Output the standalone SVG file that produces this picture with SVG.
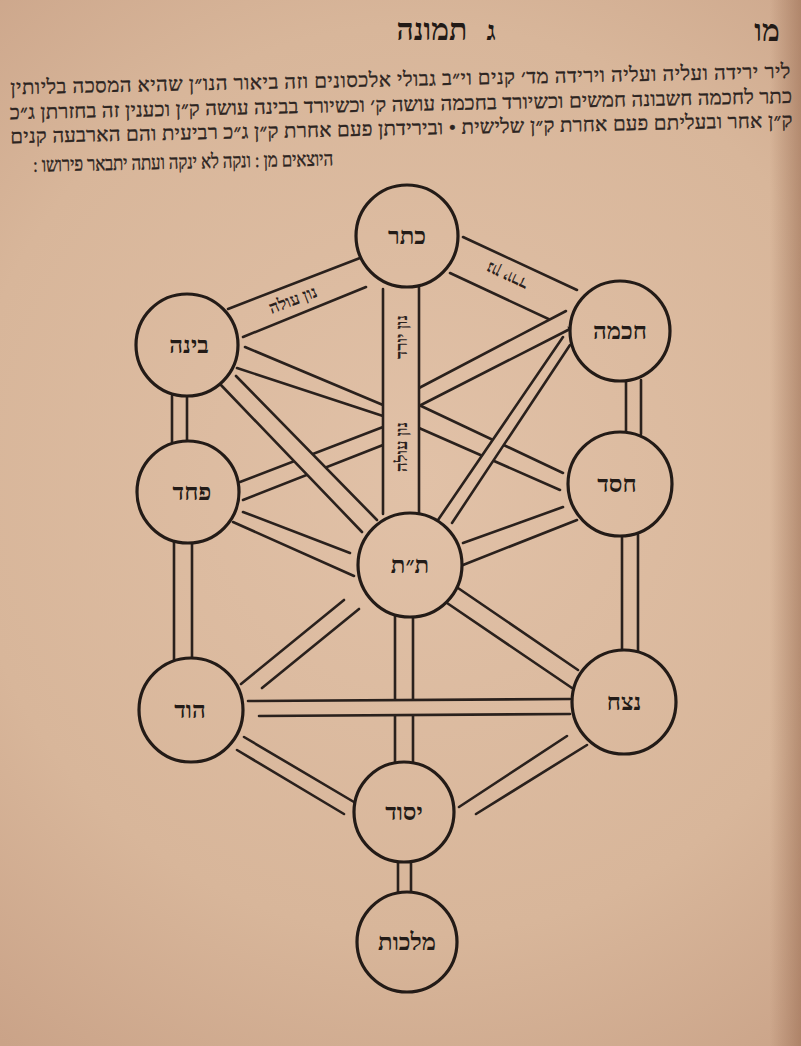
<svg xmlns="http://www.w3.org/2000/svg" width="801" height="1046" viewBox="0 0 801 1046">
<defs>
<radialGradient id="bg" gradientUnits="userSpaceOnUse" cx="420" cy="480" r="700">
<stop offset="0" stop-color="#e1c1a7"/>
<stop offset="0.65" stop-color="#d8b69a"/>
<stop offset="1" stop-color="#caa388"/>
</radialGradient>
<linearGradient id="edge" x1="0" y1="0" x2="1" y2="0">
<stop offset="0" stop-color="#8a5a40" stop-opacity="0"/>
<stop offset="1" stop-color="#8a5a40" stop-opacity="0.45"/>
</linearGradient>
</defs>
<style>
.ch{fill:url(#bg);stroke:none}
.ln{fill:none;stroke:#2a211d;stroke-width:2.6;stroke-linecap:round}
.node circle{fill:url(#bg);stroke:#231b17;stroke-width:3.2}
.node text{font-family:"Liberation Serif","DejaVu Sans",serif;font-weight:bold;font-size:24px;fill:#231b17;text-anchor:middle}
.lbl{font-family:"Liberation Serif","DejaVu Sans",serif;font-weight:bold;font-size:17px;fill:#2a211d;text-anchor:middle;dominant-baseline:central}
.body{font-family:"Liberation Serif","DejaVu Sans",serif;font-size:20px;fill:#2b2320;stroke:#2b2320;stroke-width:0.4;text-anchor:middle}
.head{font-family:"Liberation Serif","DejaVu Sans",serif;font-weight:bold;fill:#221a16;text-anchor:middle}
</style>
<rect x="0" y="0" width="801" height="1046" fill="url(#bg)"/>
<rect x="770" y="0" width="31" height="1046" fill="url(#edge)"/>

<g id="header">
<text class="head" x="432" y="40" font-size="30">תמונה</text>
<text class="head" x="491" y="40" font-size="28">ג</text>
<text class="head" x="767" y="41" font-size="30">מו</text>
</g>

<g id="paragraph" transform="rotate(-1.2 400 110)">
<text class="body" direction="rtl" x="401" y="86" textLength="780" lengthAdjust="spacing">ליר ירידה ועליה ועליה וירידה מד׳ קנים וי״ב גבולי אלכסונים וזה ביאור הנו״ן שהיא המסכה בליותין</text>
<text class="body" direction="rtl" x="401" y="111" textLength="782" lengthAdjust="spacing">כתר לחכמה חשבונה חמשים וכשיורד בחכמה עושה ק׳ וכשיורד בבינה עושה ק״ן וכענין זה בחזרתן ג״כ</text>
<text class="body" direction="rtl" x="401" y="135" textLength="782" lengthAdjust="spacing">ק״ן אחר ובעליתם פעם אחרת ק״ן שלישית • ובירידתן פעם אחרת ק״ן ג״כ רביעית והם הארבעה קנים</text>
<text class="body" direction="rtl" x="182" y="164" textLength="300" lengthAdjust="spacingAndGlyphs">היוצאים מן :    ונקה לא ינקה ועתה יתבאר פירושו :</text>
</g>

<g id="connectors">
<!-- Keter - Binah -->
<path class="ch" d="M228,309 L360,258 L366,287 L243,337 Z"/>
<path class="ln" d="M228,309 L360,258 M243,337 L366,287"/>
<text class="lbl" transform="translate(293,300) rotate(-21)">נון עולה</text>
<!-- Keter - Chochmah -->
<path class="ch" d="M463,237 L577,290 L570,329 L450,273 Z"/>
<path class="ln" d="M463,237 L577,290 M450,273 L570,329"/>
<text class="lbl" transform="translate(507,276) rotate(205)">נון יורד</text>
<!-- Binah - Chesed -->
<path class="ch" d="M245,347 L383,405 L383,416 L237,368 Z"/>
<path class="ln" d="M245,347 L383,405 M237,368 L383,416"/>
<path class="ch" d="M419,405 L563,473 L560,490 L419,428 Z"/>
<path class="ln" d="M419,405 L563,473 M419,428 L560,490"/>
<!-- Chochmah - Gevurah -->
<path class="ch" d="M240,482 L383,427 L383,445 L243,500 Z"/>
<path class="ln" d="M240,482 L383,427 M243,500 L383,445"/>
<path class="ch" d="M419,388 L566,311 L568,330 L419,406 Z"/>
<path class="ln" d="M419,388 L566,311 M419,406 L568,330"/>
<!-- Gevurah - Tiferet -->
<path class="ch" d="M243,512 L350,553 L354,576 L233,522 Z"/>
<path class="ln" d="M243,512 L350,553 M233,522 L354,576"/>
<!-- Chesed - Tiferet -->
<path class="ch" d="M563,507 L463,543 L463,565 L577,520 Z"/>
<path class="ln" d="M563,507 L463,543 M577,520 L463,565"/>
<!-- Tiferet - Hod -->
<path class="ch" d="M344,600 L241,684 L262,688 L359,609 Z"/>
<path class="ln" d="M344,600 L241,684 M359,609 L262,688"/>
<!-- Tiferet - Netzach -->
<path class="ch" d="M447,603 L572,688 L578,670 L458,588 Z"/>
<path class="ln" d="M447,603 L572,688 M458,588 L578,670"/>
<!-- Hod - Yesod -->
<path class="ch" d="M244,737 L359,805 L344,814 L237,750 Z"/>
<path class="ln" d="M244,737 L359,805 M237,750 L344,814"/>
<!-- Netzach - Yesod -->
<path class="ch" d="M567,736 L459,807 L476,814 L587,745 Z"/>
<path class="ln" d="M567,736 L459,807 M587,745 L476,814"/>
<!-- verticals -->
<path class="ln" d="M172,396 L172,443 M187,396 L187,443"/>
<path class="ln" d="M174,542 L174,660 M192,542 L192,660"/>
<path class="ln" d="M626,380 L626,434 M641,380 L641,434"/>
<path class="ln" d="M622,535 L622,651 M638,535 L638,651"/>
<path class="ln" d="M398,861 L398,893 M411,861 L411,893"/>
<!-- Binah - Tiferet (steep, over) -->
<path class="ch" d="M220,384 L362,532 L377,520 L236,376 Z"/>
<path class="ln" d="M220,384 L362,532 M236,376 L377,520"/>
<!-- Chochmah - Tiferet (steep, over) -->
<path class="ch" d="M570,345 L452,523 L438,520 L563,337 Z"/>
<path class="ln" d="M570,345 L452,523 M563,337 L438,520"/>
<!-- Keter - Tiferet central column -->
<rect class="ch" x="384" y="289" width="34" height="225"/>
<path class="ln" d="M383,289 L383,514 M419,287 L419,514"/>
<text class="lbl" transform="translate(401,337) rotate(-90)">נון יורד</text>
<text class="lbl" transform="translate(401,447) rotate(-90)">נון עולה</text>
<!-- Tiferet - Yesod -->
<path class="ln" d="M395,616 L395,762 M413,616 L413,762"/>
<!-- Hod - Netzach (over) -->
<path class="ch" d="M248,701 L570,699 L570,714 L259,716 Z"/>
<path class="ln" d="M248,701 L570,699 M259,716 L570,714"/>
</g>

<g id="node-keter" class="node"><circle cx="407" cy="236" r="51"/><text x="407" y="244">כתר</text></g>
<g id="node-chochmah" class="node"><circle cx="620" cy="331" r="50"/><text x="620" y="339">חכמה</text></g>
<g id="node-binah" class="node"><circle cx="187" cy="345" r="51"/><text x="189" y="353">בינה</text></g>
<g id="node-pachad" class="node"><circle cx="188" cy="492" r="51"/><text x="192" y="500">פחד</text></g>
<g id="node-chesed" class="node"><circle cx="620" cy="484" r="52"/><text x="617" y="492">חסד</text></g>
<g id="node-tiferet" class="node"><circle cx="410" cy="565" r="52"/><text x="410" y="573">ת״ת</text></g>
<g id="node-hod" class="node"><circle cx="191" cy="710" r="52"/><text x="190" y="718">הוד</text></g>
<g id="node-netzach" class="node"><circle cx="624" cy="702" r="52"/><text x="624" y="710">נצח</text></g>
<g id="node-yesod" class="node"><circle cx="404" cy="812" r="50"/><text x="404" y="820">יסוד</text></g>
<g id="node-malchut" class="node"><circle cx="407" cy="942" r="50"/><text x="407" y="950">מלכות</text></g>
</svg>
